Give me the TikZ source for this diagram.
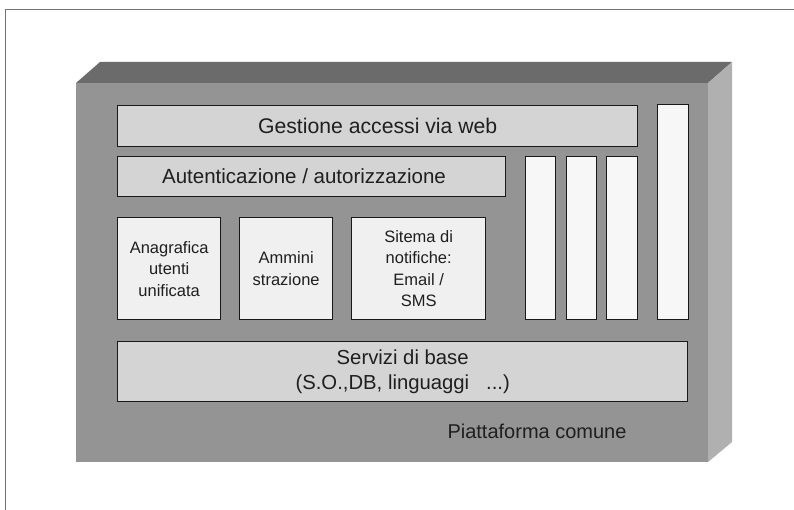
\documentclass[tikz,border=0pt]{standalone}
\usepackage{fontspec}
\setmainfont{Liberation Sans}
\begin{document}
\begin{tikzpicture}[x=1pt,y=-1pt,
  frameline/.style={draw=black!55,line width=0.8pt},
  panel/.style={draw=black!90,line width=1.4pt,anchor=north west,inner sep=0pt,
    text=black!88,align=center},
  wide/.style={panel,fill=black!17,font=\fontsize{20.3}{25}\selectfont},
  module/.style={panel,fill=black!6,font=\fontsize{16.5}{21.5}\selectfont},
  slot/.style={panel,fill=black!3},
  label/.style={text=black!88}]
\useasboundingbox (0,0) rectangle (794,510);
% outer frame (top and left edges)
\draw[frameline] (5,510) -- (5,9) -- (794,9);
% common platform block: top, right and front faces
\fill[black!58] (76,83) -- (100,62) -- (732,62) -- (708,83) -- cycle;
\fill[black!31] (708,83) -- (732,62) -- (732,442) -- (708,462) -- cycle;
\fill[black!42] (76,83) rectangle (708,462);
% layers
\node[wide,minimum width=520pt,minimum height=41pt] (gest) at (117,105) {};
\node[label,font=\fontsize{21.2}{25}\selectfont] (gesttxt) at (gest.center) {Gestione accessi via web};
\node[wide,minimum width=388pt,minimum height=40pt] (aut) at (117,156) {};
\node[label,font=\fontsize{20.5}{25}\selectfont] (auttxt) at (304,176) {Autenticazione / autorizzazione};
\node[module,minimum width=103pt,minimum height=102pt] (anag) at (117,217) {Anagrafica\\utenti\\unificata};
\node[module,minimum width=93pt,minimum height=102pt] (amm) at (239,217) {Ammini\\strazione};
\node[module,minimum width=134pt,minimum height=102pt] (not) at (351,217) {Sitema di\\notifiche:\\Email /\\SMS};
\node[slot,minimum width=30pt,minimum height=163pt] (s1) at (525,156) {};
\node[slot,minimum width=30pt,minimum height=163pt] (s2) at (566,156) {};
\node[slot,minimum width=31pt,minimum height=163pt] (s3) at (606,156) {};
\node[slot,minimum width=31pt,minimum height=215pt] (s4) at (657,104) {};
\node[wide,minimum width=570pt,minimum height=60pt] (base) at (117,341) {Servizi di base\\(S.O.,DB, linguaggi \ \ ...)};
\node[label,font=\fontsize{20}{25}\selectfont] (plat) at (537,431) {Piattaforma comune};
\end{tikzpicture}
\end{document}
